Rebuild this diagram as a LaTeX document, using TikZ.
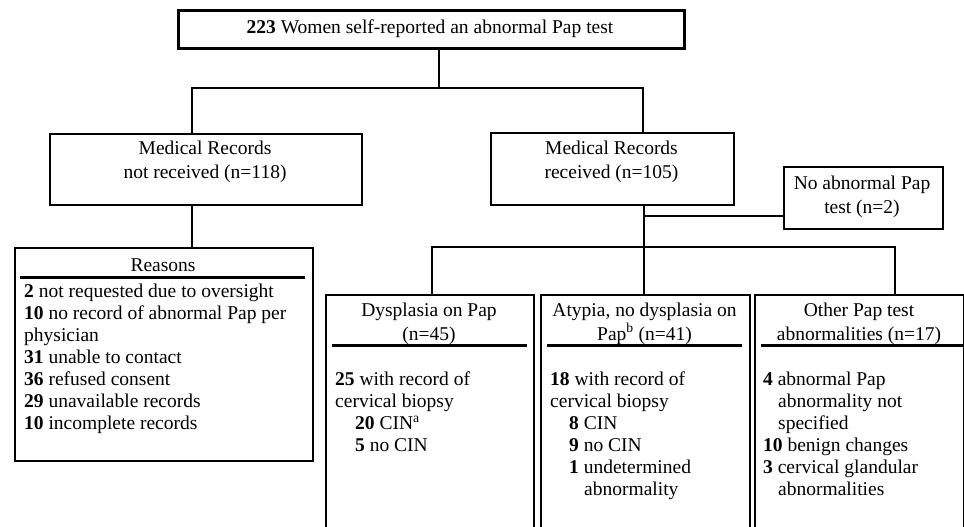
\documentclass[tikz,border=0pt]{standalone}
\usepackage{fontspec}
\setmainfont{Liberation Serif}
\begin{document}
\begin{tikzpicture}[x=1pt,y=-1pt,
  box/.style={draw, line width=2pt, inner sep=0pt, anchor=north west},
  txt/.style={font=\fontsize{19.5}{23.5}\selectfont, inner sep=0pt, align=center},
  body/.style={font=\fontsize{19.5}{22}\selectfont, inner sep=0pt, align=left, anchor=north west},
  conn/.style={line width=2pt},
  rule/.style={line width=3pt}]
\clip (0,0) rectangle (964,527);
% boxes
\node[box, line width=3pt, minimum width=506, minimum height=38] (top) at (177,9) {};
\node[txt] (toptxt) at (430,29) {\textbf{223} Women self-reported an abnormal Pap test};
\node[box, minimum width=312, minimum height=71] (nr) at (49,133) {};
\node[txt] (nrtxt) at (205,162) {Medical Records\\not received (n=118)};
\node[box, minimum width=243, minimum height=72] (rr) at (490,132) {};
\node[txt] (rrtxt) at (611.5,162) {Medical Records\\received (n=105)};
\node[box, minimum width=159, minimum height=62] (noab) at (783,166) {};
\node[txt] (noabtxt) at (862,197) {No abnormal Pap\\test (n=2)};
\node[box, minimum width=298, minimum height=213] (reas) at (14,247) {};
\node[txt] (reastxt) at (163,265) {Reasons};
\draw[rule] (20,277) -- (305,277);
\node[body] (reasbody) at (24,284) {\textbf{2} not requested due to oversight\\
\textbf{10} no record of abnormal Pap per\\
physician\\
\textbf{31} unable to contact\\
\textbf{36} refused consent\\
\textbf{29} unavailable records\\
\textbf{10} incomplete records};
% bottom boxes
\node[box, minimum width=208, minimum height=260] (dys) at (325,294) {};
\node[box, minimum width=209, minimum height=260] (aty) at (540,294) {};
\node[box, minimum width=209, minimum height=260] (oth) at (754,294) {};
\node[txt] (dyshead) at (429,324) {Dysplasia on Pap\\(n=45)};
\node[txt] (atyhead) at (644.5,324) {Atypia, no dysplasia on\\Pap\textsuperscript{b} (n=41)};
\node[txt] (othhead) at (859,324) {Other Pap test\\abnormalities (n=17)};
\draw[rule] (332,345) -- (527,345);
\draw[rule] (547,345) -- (742,345);
\draw[rule] (761,345) -- (963,345);
\node[body] (dysbody) at (335,372) {\textbf{25} with record of\\
cervical biopsy\\
\hspace*{20pt}\textbf{20} CIN\textsuperscript{a}\\
\hspace*{20pt}\textbf{5} no CIN};
\node[body] (atybody) at (550,372) {\textbf{18} with record of\\
cervical biopsy\\
\hspace*{19pt}\textbf{8} CIN\\
\hspace*{19pt}\textbf{9} no CIN\\
\hspace*{19pt}\textbf{1} undetermined\\
\hspace*{34pt}abnormality};
\node[body] (othbody) at (763,372) {\textbf{4} abnormal Pap\\
\hspace*{15pt}abnormality not\\
\hspace*{15pt}specified\\
\textbf{10} benign changes\\
\textbf{3} cervical glandular\\
\hspace*{15pt}abnormalities};
% connectors
\coordinate (jt) at (439,88);
\coordinate (cl) at (192,0);
\coordinate (cr) at (643,0);
\coordinate (cm) at (644,0);
\coordinate (jn) at (644,216);
\coordinate (jb) at (644,247);
\coordinate (cd) at (432,0);
\coordinate (co) at (895,0);
\draw[conn] (top.south -| jt) -- (jt);
\draw[conn] (nr.north -| cl) |- (jt) -| (rr.north -| cr);
\draw[conn] (nr.south -| cl) -- (reas.north -| cl);
\draw[conn] (rr.south -| cm) -- (aty.north -| cm);
\draw[conn] (jn) -- (noab.west |- jn);
\draw[conn] (dys.north -| cd) -- (cd |- jb) -- (co |- jb) -- (oth.north -| co);
\end{tikzpicture}
\end{document}
